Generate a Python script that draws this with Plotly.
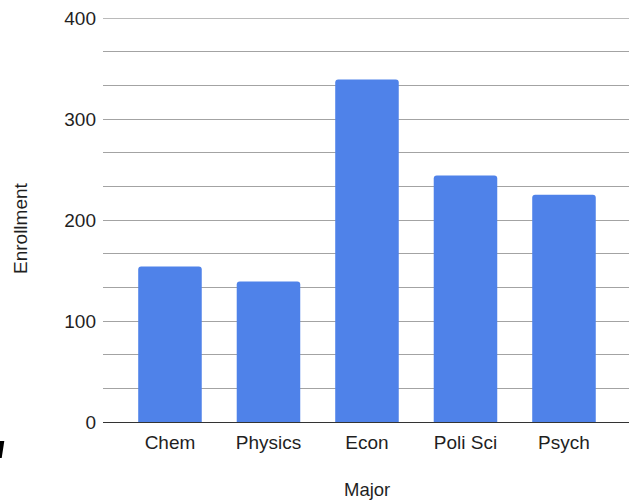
import plotly.graph_objects as go

# Enrollment by major
majors = ["Chem", "Physics", "Econ", "Poli Sci", "Psych"]
enrollment = [154, 139, 339, 244, 225]

y_ticks = [0, 100, 200, 300, 400]

W, H = 637, 500
M_L, M_R, M_T, M_B = 103, 8, 18, 78
BAR_COLOR = "#4F82E9"
GRID = "#A3A3A3"
TEXT = "#1F1F1F"
FONT = "Liberation Sans, Arial, sans-serif"

fig = go.Figure(
    go.Bar(
        x=majors,
        y=enrollment,
        marker=dict(color=BAR_COLOR, line=dict(width=0), cornerradius=3),
        width=0.645,
        hoverinfo="x+y",
    )
)

plot_w = W - M_L - M_R
plot_h = H - M_T - M_B


def to_paper(px, py):
    return (px - M_L) / plot_w, (H - M_B - py) / plot_h


fig.update_layout(
    width=W,
    height=H,
    margin=dict(l=M_L, r=M_R, t=M_T, b=M_B),
    paper_bgcolor="white",
    plot_bgcolor="white",
    showlegend=False,
    font=dict(family=FONT, color=TEXT, size=18),
)

fig.update_xaxes(
    range=[-0.68, 4.66],
    showgrid=False,
    showline=True,
    linecolor="#333333",
    linewidth=1.4,
    ticks="",
    ticklabelstandoff=3,
    tickfont=dict(size=19, color=TEXT),
)

fig.update_yaxes(
    range=[0, 400],
    tickvals=y_ticks,
    ticktext=[str(v) for v in y_ticks],
    showgrid=True,
    gridcolor=GRID,
    gridwidth=1.4,
    minor=dict(tickvals=[100 * k + d for k in range(4) for d in (100 / 3, 200 / 3)],
               showgrid=True, gridcolor=GRID, gridwidth=1.4),
    zeroline=False,
    ticks="",
    ticklabelstandoff=6,
    tickfont=dict(size=19, color=TEXT),
)

# top gridline at the end of the value range
fig.add_shape(type="line", xref="paper", yref="y", x0=0, x1=1,
              y0=y_ticks[-1], y1=y_ticks[-1],
              line=dict(color=GRID, width=1.4), layer="below")

# axis titles
mx, my = to_paper(366.7, 490)
fig.add_annotation(text="Major", xref="paper", yref="paper", x=mx, y=my,
                   xanchor="center", yanchor="middle", showarrow=False,
                   font=dict(size=18.5, color=TEXT))
ex, ey = to_paper(20, 228)
fig.add_annotation(text="Enrollment", xref="paper", yref="paper", x=ex, y=ey,
                   xanchor="center", yanchor="middle", textangle=-90, showarrow=False,
                   font=dict(size=19, color=TEXT))

# small dark stroke at the lower-left edge
pts = [to_paper(0, 441), to_paper(4.3, 441), to_paper(1.7, 458), to_paper(0, 458)]
path = "M " + " L ".join(f"{x:.5f},{y:.5f}" for x, y in pts) + " Z"
fig.add_shape(type="path", xref="paper", yref="paper", path=path,
              fillcolor="black", line=dict(width=0), layer="above")

fig.write_html("out.html")
